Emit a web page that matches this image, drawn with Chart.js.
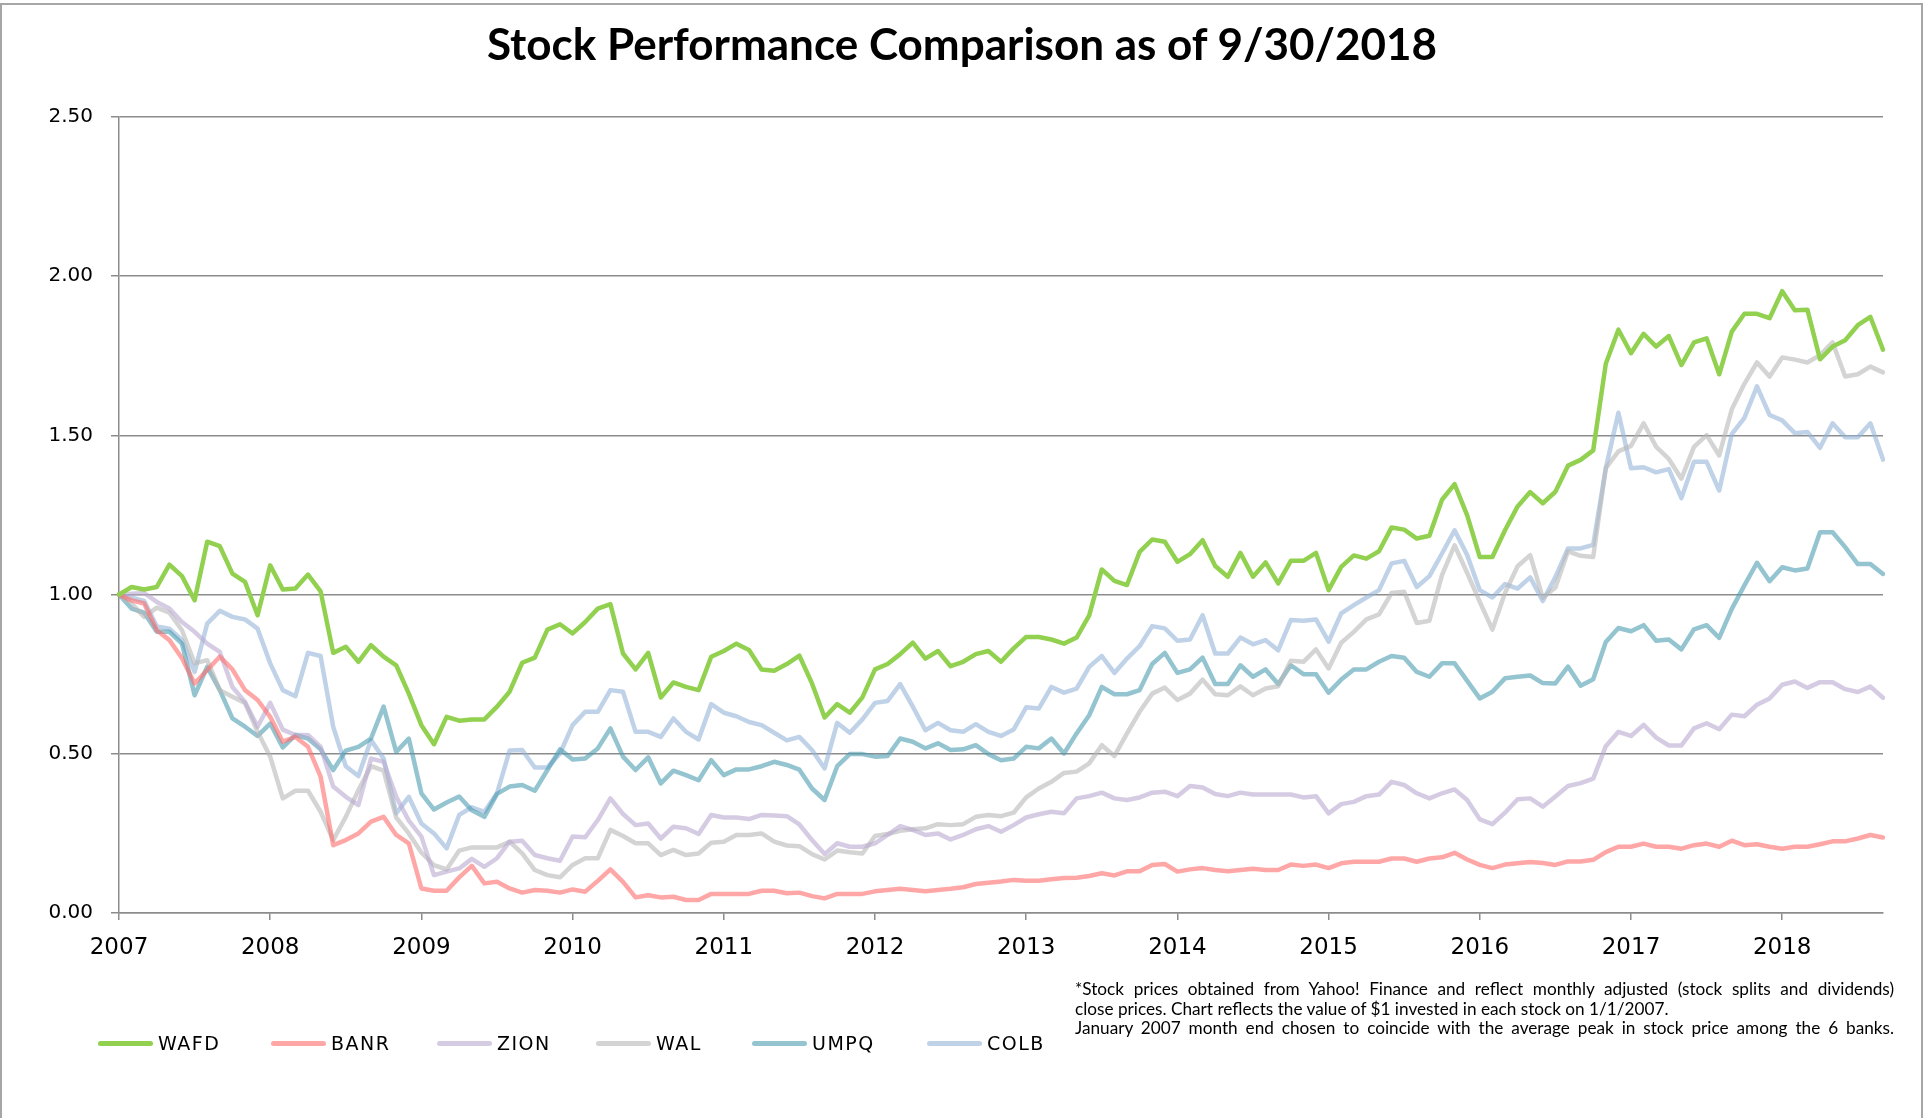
<!DOCTYPE html>
<html>
<head>
<meta charset="utf-8">
<script src="https://cdn.jsdelivr.net/npm/chart.js@4.4.0/dist/chart.umd.min.js"></script>
<style>
    html, body { margin: 0; padding: 0; background: #fff; }
    #wrap { position: relative; width: 1923px; height: 1118px; overflow: hidden; }
    #frame { position: absolute; left: 0; top: 3px; width: 1923px; height: 1200px; border: 2px solid #a6a6a6; box-sizing: border-box; pointer-events: none; }
    canvas { position: absolute; left: 0; top: 0; }
    #title { position: absolute; left: 0; width: 1924px; top: 21px; text-align: center; font: 700 44px Lato, sans-serif; line-height: 44px; color: #000; }
    #note { position: absolute; left: 1075px; top: 979px; width: 819px; font: 17.2px Lato, sans-serif; line-height: 19.6px; color: #000; }
    #note div.j { text-align: justify; text-align-last: justify; }
    .item { position: absolute; top: 1031px; height: 24px; display: flex; align-items: center; font: 19px "DejaVu Sans", sans-serif; letter-spacing: 1.5px; color: #000; }
    .item span.ln { display: inline-block; width: 55px; height: 5px; border-radius: 3px; margin-right: 5px; }
</style>
</head>
<body>
<div id="wrap">
    <canvas id="stockChart" width="1923" height="1118"></canvas>
    <div id="title">Stock Performance Comparison as of 9/30/2018</div>
    <div id="note">
        <div class="j">*Stock prices obtained from Yahoo! Finance and reflect monthly adjusted (stock splits and dividends)</div>
        <div>close prices. Chart reflects the value of $1 invested in each stock on 1/1/2007.</div>
        <div class="j">January 2007 month end chosen to coincide with the average peak in stock price among the 6 banks.</div>
    </div>
    <div id="legend"></div>
    <div id="frame"></div>
</div>
<script>
    const years = ['2007', '2008', '2009', '2010', '2011', '2012', '2013', '2014', '2015', '2016', '2017', '2018'];
    const monthNames = ['Jan', 'Feb', 'Mar', 'Apr', 'May', 'Jun', 'Jul', 'Aug', 'Sep', 'Oct', 'Nov', 'Dec'];
    const banks = ['WAFD', 'BANR', 'ZION', 'WAL', 'UMPQ', 'COLB'];

    // value of $1 invested on 1/1/2007, month by month
    const wafd = [
        1.00, 1.024, 1.016, 1.024, 1.094, 1.058, 0.982, 1.166, 1.152, 1.066, 1.04, 0.935,
        1.092, 1.016, 1.019, 1.063, 1.01, 0.817, 0.836, 0.789, 0.841, 0.805, 0.778, 0.689,
        0.59, 0.53, 0.616, 0.604, 0.608, 0.608, 0.648, 0.695, 0.786, 0.802, 0.89, 0.907,
        0.878, 0.914, 0.956, 0.97, 0.815, 0.765, 0.817, 0.677, 0.724, 0.71, 0.70, 0.805,
        0.823, 0.846, 0.826, 0.765, 0.761, 0.782, 0.808, 0.721, 0.614, 0.656, 0.629, 0.677,
        0.765, 0.782, 0.813, 0.849, 0.799, 0.823, 0.775, 0.789, 0.813, 0.823, 0.789, 0.831,
        0.867, 0.867, 0.859, 0.846, 0.865, 0.935, 1.079, 1.043, 1.03, 1.134, 1.173, 1.166,
        1.103, 1.127, 1.171, 1.09, 1.056, 1.131, 1.056, 1.101, 1.035, 1.106, 1.106, 1.131,
        1.014, 1.087, 1.123, 1.113, 1.136, 1.211, 1.204, 1.176, 1.185, 1.298, 1.347, 1.249,
        1.118, 1.118, 1.202, 1.277, 1.322, 1.287, 1.323, 1.405, 1.423, 1.453, 1.725, 1.832,
        1.758, 1.819, 1.779, 1.812, 1.721, 1.792, 1.805, 1.692, 1.826, 1.882, 1.882, 1.868,
        1.953, 1.893, 1.895, 1.739, 1.779, 1.799, 1.846, 1.872, 1.769
    ];
    const banr = [
        1.0, 0.982, 0.972, 0.888, 0.857, 0.80, 0.721, 0.763, 0.805, 0.765, 0.70, 0.669,
        0.616, 0.538, 0.553, 0.522, 0.428, 0.213, 0.229, 0.25, 0.287, 0.302, 0.245, 0.219,
        0.077, 0.07, 0.07, 0.112, 0.148, 0.093, 0.098, 0.077, 0.064, 0.072, 0.07, 0.064,
        0.074, 0.067, 0.101, 0.137, 0.098, 0.049, 0.056, 0.049, 0.051, 0.041, 0.041, 0.06,
        0.06, 0.06, 0.06, 0.07, 0.07, 0.062, 0.064, 0.053, 0.046, 0.06, 0.06, 0.06,
        0.068, 0.072, 0.076, 0.072, 0.068, 0.072, 0.076, 0.081, 0.091, 0.095, 0.099, 0.104,
        0.101, 0.101, 0.106, 0.11, 0.111, 0.116, 0.125, 0.118, 0.131, 0.131, 0.151, 0.154,
        0.13, 0.137, 0.141, 0.135, 0.131, 0.135, 0.139, 0.135, 0.135, 0.152, 0.148, 0.152,
        0.141, 0.156, 0.161, 0.161, 0.161, 0.171, 0.171, 0.161, 0.171, 0.175, 0.189, 0.168,
        0.151, 0.141, 0.152, 0.156, 0.16, 0.157, 0.151, 0.162, 0.162, 0.167, 0.191, 0.208,
        0.208, 0.218, 0.208, 0.208, 0.202, 0.213, 0.218, 0.208, 0.227, 0.213, 0.216, 0.208,
        0.202, 0.208, 0.208, 0.216, 0.225, 0.225, 0.234, 0.245, 0.237
    ];
    const zion = [
        1.0, 1.003, 1.005, 0.977, 0.956, 0.914, 0.883, 0.846, 0.82, 0.71, 0.663, 0.585,
        0.66, 0.576, 0.559, 0.559, 0.522, 0.397, 0.365, 0.339, 0.485, 0.475, 0.365, 0.29,
        0.24, 0.119, 0.13, 0.14, 0.17, 0.145, 0.172, 0.224, 0.227, 0.182, 0.172, 0.164,
        0.24, 0.238, 0.292, 0.36, 0.311, 0.276, 0.281, 0.234, 0.271, 0.266, 0.248, 0.308,
        0.30, 0.30, 0.295, 0.308, 0.306, 0.304, 0.278, 0.229, 0.185, 0.219, 0.208, 0.208,
        0.219, 0.245, 0.273, 0.261, 0.245, 0.25, 0.231, 0.245, 0.263, 0.273, 0.255, 0.276,
        0.30, 0.31, 0.318, 0.313, 0.36, 0.367, 0.378, 0.36, 0.355, 0.363, 0.378, 0.381,
        0.367, 0.399, 0.394, 0.374, 0.367, 0.378, 0.372, 0.372, 0.372, 0.372, 0.363, 0.367,
        0.313, 0.342, 0.349, 0.367, 0.372, 0.412, 0.402, 0.376, 0.36, 0.376, 0.388, 0.355,
        0.294, 0.279, 0.315, 0.357, 0.36, 0.334, 0.366, 0.399, 0.408, 0.422, 0.524, 0.569,
        0.556, 0.591, 0.551, 0.526, 0.526, 0.58, 0.596, 0.577, 0.623, 0.618, 0.654, 0.674,
        0.717, 0.727, 0.707, 0.725, 0.725, 0.703, 0.694, 0.711, 0.676
    ];
    const wal = [
        1.0, 0.972, 0.93, 0.959, 0.943, 0.888, 0.784, 0.794, 0.70, 0.679, 0.66, 0.569,
        0.491, 0.36, 0.384, 0.384, 0.318, 0.229, 0.302, 0.386, 0.461, 0.447, 0.30, 0.25,
        0.19, 0.15, 0.137, 0.196, 0.206, 0.206, 0.206, 0.224, 0.187, 0.135, 0.119, 0.112,
        0.151, 0.172, 0.172, 0.261, 0.242, 0.219, 0.219, 0.182, 0.198, 0.182, 0.187, 0.221,
        0.224, 0.245, 0.245, 0.25, 0.224, 0.212, 0.21, 0.185, 0.168, 0.196, 0.191, 0.187,
        0.242, 0.248, 0.258, 0.263, 0.266, 0.279, 0.276, 0.279, 0.302, 0.308, 0.304, 0.315,
        0.363, 0.391, 0.412, 0.44, 0.444, 0.47, 0.527, 0.493, 0.564, 0.632, 0.689, 0.708,
        0.669, 0.689, 0.733, 0.687, 0.684, 0.712, 0.684, 0.705, 0.712, 0.792, 0.789, 0.828,
        0.768, 0.849, 0.883, 0.922, 0.938, 1.005, 1.009, 0.911, 0.918, 1.061, 1.155, 1.068,
        0.977, 0.89, 1.005, 1.089, 1.124, 0.99, 1.022, 1.136, 1.122, 1.118, 1.397, 1.45,
        1.467, 1.538, 1.464, 1.426, 1.364, 1.464, 1.501, 1.437, 1.582, 1.662, 1.729, 1.685,
        1.745, 1.738, 1.729, 1.752, 1.792, 1.685, 1.692, 1.716, 1.698
    ];
    const umpq = [
        1.0, 0.956, 0.943, 0.883, 0.883, 0.846, 0.684, 0.773, 0.70, 0.611, 0.585, 0.556,
        0.595, 0.52, 0.559, 0.548, 0.514, 0.449, 0.51, 0.522, 0.548, 0.648, 0.506, 0.548,
        0.376, 0.325, 0.347, 0.366, 0.323, 0.302, 0.374, 0.397, 0.402, 0.384, 0.449, 0.514,
        0.482, 0.485, 0.517, 0.58, 0.491, 0.449, 0.489, 0.407, 0.447, 0.433, 0.417, 0.48,
        0.433, 0.451, 0.451, 0.461, 0.475, 0.465, 0.45, 0.391, 0.355, 0.461, 0.499, 0.499,
        0.491, 0.493, 0.548, 0.538, 0.517, 0.533, 0.512, 0.514, 0.527, 0.499, 0.48, 0.485,
        0.522, 0.517, 0.548, 0.501, 0.564, 0.621, 0.71, 0.687, 0.687, 0.70, 0.782, 0.817,
        0.754, 0.765, 0.802, 0.719, 0.719, 0.778, 0.742, 0.765, 0.719, 0.778, 0.75, 0.75,
        0.692, 0.733, 0.765, 0.765, 0.789, 0.807, 0.802, 0.757, 0.742, 0.784, 0.784, 0.729,
        0.674, 0.695, 0.737, 0.742, 0.746, 0.722, 0.721, 0.774, 0.714, 0.734, 0.851, 0.895,
        0.885, 0.904, 0.855, 0.859, 0.828, 0.891, 0.904, 0.864, 0.955, 1.029, 1.10, 1.042,
        1.086, 1.076, 1.082, 1.196, 1.196, 1.149, 1.096, 1.096, 1.065
    ];
    const colb = [
        1.0, 0.99, 0.98, 0.90, 0.893, 0.857, 0.757, 0.909, 0.949, 0.93, 0.922, 0.893,
        0.784, 0.70, 0.681, 0.817, 0.807, 0.585, 0.461, 0.43, 0.543, 0.485, 0.313, 0.365,
        0.281, 0.25, 0.203, 0.308, 0.332, 0.318, 0.376, 0.51, 0.512, 0.457, 0.457, 0.501,
        0.59, 0.632, 0.632, 0.70, 0.695, 0.569, 0.569, 0.553, 0.611, 0.569, 0.545, 0.656,
        0.629, 0.618, 0.60, 0.59, 0.566, 0.542, 0.553, 0.512, 0.454, 0.597, 0.566, 0.608,
        0.66, 0.666, 0.719, 0.648, 0.574, 0.597, 0.574, 0.569, 0.593, 0.569, 0.556, 0.576,
        0.646, 0.642, 0.71, 0.692, 0.705, 0.773, 0.807, 0.754, 0.799, 0.838, 0.901, 0.894,
        0.855, 0.859, 0.935, 0.815, 0.815, 0.865, 0.844, 0.857, 0.825, 0.92, 0.918, 0.922,
        0.852, 0.941, 0.967, 0.991, 1.014, 1.098, 1.106, 1.024, 1.058, 1.129, 1.202, 1.124,
        1.014, 0.991, 1.033, 1.019, 1.054, 0.98, 1.055, 1.145, 1.145, 1.156, 1.397, 1.571,
        1.397, 1.40, 1.384, 1.394, 1.303, 1.417, 1.417, 1.327, 1.504, 1.555, 1.654, 1.564,
        1.547, 1.507, 1.511, 1.461, 1.538, 1.494, 1.494, 1.538, 1.424
    ];

    const series = [wafd, banr, zion, wal, umpq, colb];
    const colors = ['#92d050', 'rgba(255,108,108,0.6)', 'rgba(185,170,208,0.6)',
        'rgba(183,183,183,0.6)', 'rgba(75,157,177,0.6)', 'rgba(148,180,217,0.6)'];
    const legendLeft = [98, 271, 437, 596, 752, 927];

    // one label per month end, Jan 2007 .. Sep 2018
    const months = [];
    years.forEach(y => monthNames.forEach(m => months.push(m + ' ' + y)));
    const labels = months.slice(0, wafd.length);

    const legend = document.getElementById('legend');
    banks.forEach((name, i) => {
        const item = document.createElement('div');
        item.className = 'item';
        item.style.left = legendLeft[i] + 'px';
        item.innerHTML = '<span class="ln" style="background:' + colors[i] + '"></span>' + name;
        legend.appendChild(item);
    });

    const gridColor = '#8c8c8c';

    new Chart(document.getElementById('stockChart'), {
        type: 'line',
        data: {
            labels: labels,
            datasets: banks.map((name, i) => ({
                label: name,
                data: series[i],
                borderColor: colors[i],
                backgroundColor: colors[i],
                fill: false
            }))
        },
        options: {
            responsive: false,
            animation: false,
            layout: { padding: { left: 0, right: 40, top: 117, bottom: 145 } },
            plugins: { legend: { display: false }, tooltip: { enabled: false } },
            elements: {
                point: { radius: 0 },
                line: { tension: 0, borderWidth: 4.5, borderCapStyle: 'round', borderJoinStyle: 'round' }
            },
            scales: {
                x: {
                    type: 'category',
                    offset: false,
                    grid: { drawOnChartArea: false, color: gridColor, lineWidth: 1.5, tickLength: 7 },
                    border: { color: gridColor, width: 1.5 },
                    ticks: {
                        autoSkip: false,
                        maxRotation: 0,
                        color: '#000',
                        padding: 14,
                        font: { family: 'DejaVu Sans', size: 23 },
                        callback: function (v) { return this.getLabelForValue(v).slice(-4); }
                    },
                    afterBuildTicks: ax => { ax.ticks = ax.ticks.filter(t => t.value % 12 === 0); },
                    afterFit: ax => { ax.height = 60; }
                },
                y: {
                    min: 0,
                    max: 2.5,
                    grid: { color: gridColor, lineWidth: 1.5, tickLength: 8 },
                    border: { color: gridColor, width: 1.5 },
                    ticks: {
                        stepSize: 0.5,
                        color: '#000',
                        padding: 18,
                        font: { family: 'DejaVu Sans', size: 20 },
                        callback: v => v.toFixed(2)
                    },
                    afterFit: ax => { ax.width = 119; }
                }
            }
        }
    });
</script>
</body>
</html>
